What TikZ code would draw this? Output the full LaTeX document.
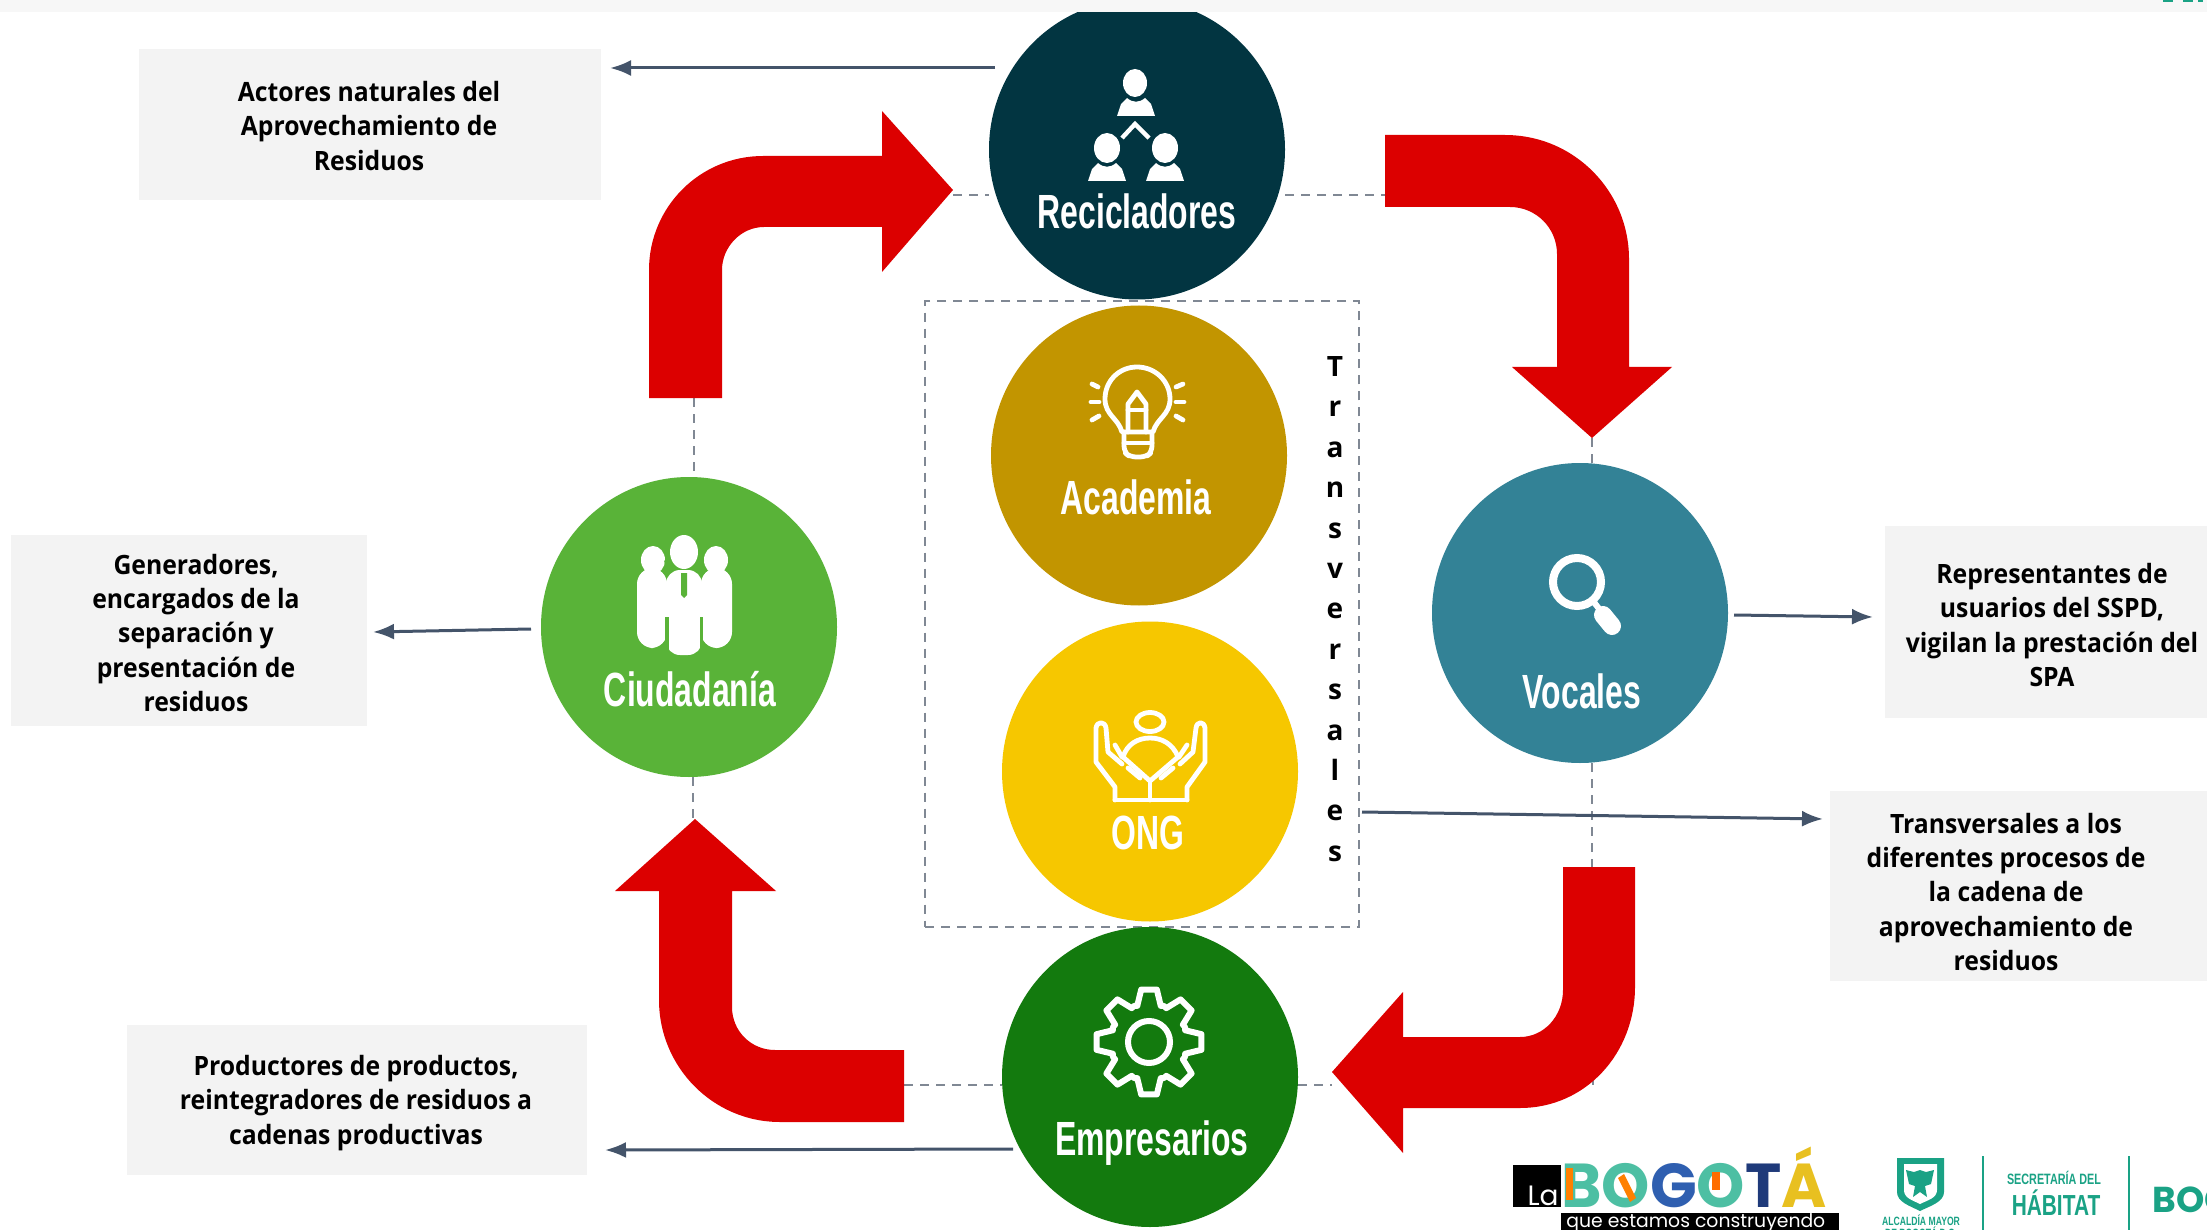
\documentclass[tikz,border=0pt]{standalone}
\usepackage{fontspec}
\usetikzlibrary{arrows.meta,calc,shapes.geometric}
\setmainfont{Open Sans}
\newfontfamily\condfont[FakeStretch=0.665]{Liberation Sans}
\newfontfamily\bodyfont[FakeStretch=0.93]{Open Sans}
\newfontfamily\letterfont{Open Sans}
\newfontfamily\logofont{Poppins}
\newfontfamily\logowide[FakeStretch=0.99]{Poppins}
\newfontfamily\lognarrow[FakeStretch=0.72]{Liberation Sans}
\definecolor{cRec}{HTML}{023541}
\definecolor{cAca}{HTML}{C29500}
\definecolor{cOng}{HTML}{F6C700}
\definecolor{cVoc}{HTML}{338296}
\definecolor{cCiu}{HTML}{59B338}
\definecolor{cEmp}{HTML}{137A0E}
\definecolor{cRed}{HTML}{DC0000}
\definecolor{cBox}{HTML}{F3F3F3}
\definecolor{cArr}{HTML}{44546A}
\definecolor{cDash}{HTML}{808894}
\definecolor{cTeal}{HTML}{1AA285}
\definecolor{cLogo}{HTML}{4DBFA3}
\tikzset{
  disc/.style={ellipse,minimum width=148pt,minimum height=150pt,inner sep=0pt,outer sep=0pt,fill=#1},
  tbox/.style={rectangle,fill=cBox,inner sep=0pt,outer sep=0pt},
  ttext/.style={align=center,text=black,font=\bodyfont\bfseries\fontsize{13.3}{17.2}\selectfont,inner sep=0pt},
  lab/.style={anchor=base,text=white,inner sep=0pt,font=\condfont\bfseries\fontsize{24}{24}\selectfont},
  thinarrow/.style={draw=cArr,line width=1.5pt,-{Latex[length=10.5pt,width=8pt]}},
  dashline/.style={draw=cDash,line width=1pt,dash pattern=on 4.5pt off 3.5pt},
  redarrow/.style={fill=cRed,draw=none},
  ico/.style={draw=white,line width=2.4pt,line join=round,line cap=round}
}
\begin{document}
\begin{tikzpicture}[x=0.5pt,y=-0.5pt]
\useasboundingbox (0,0) rectangle (2207,1230);
\fill[white] (0,0) rectangle (2207,1230);

% boxes
\node[tbox,minimum width=231pt,minimum height=75.5pt] (b1) at (370,124.5) {};
\node[tbox,minimum width=178pt,minimum height=95.5pt] (b2) at (189,630.5) {};
\node[tbox,minimum width=230pt,minimum height=75pt] (b3) at (357,1100) {};
\node[tbox,minimum width=161pt,minimum height=96pt] (b4) at (2046,622) {};
\node[tbox,minimum width=188.5pt,minimum height=95pt] (b5) at (2018.5,886) {};
\node[ttext] (t1) at (369,126) {Actores naturales del\\Aprovechamiento de\\Residuos};
\node[ttext] (t2) at (196,633) {Generadores,\\encargados de la\\separación y\\presentación de\\residuos};
\node[ttext] (t3) at (356,1103) {Productores de productos,\\reintegradores de residuos a\\cadenas productivas};
\node[ttext] (t4) at (2052,625) {Representantes de\\usuarios del SSPD,\\vigilan la prestación del\\SPA};
\node[ttext] (t5) at (2006,892) {Transversales a los\\diferentes procesos de\\la cadena de\\aprovechamiento de\\residuos};

% dashed frame
\node[draw=cDash,line width=1pt,dash pattern=on 4.5pt off 3.5pt,rectangle,minimum width=217pt,minimum height=312.5pt,inner sep=0pt] (frame) at (1142,614) {};

% anchors of connectors
\coordinate (dTLb) at (694,398);
\coordinate (dTLt) at (953,195);
\coordinate (dTRs) at (1385,195);
\coordinate (dTRt) at (1592,438);
\coordinate (dBRt) at (1592,867);
\coordinate (dBRl) at (1332,1085);
\coordinate (dBLr) at (904,1085);
\coordinate (dBLt) at (693,819);

% circles
\node[disc=cRec] (rec) at (1137,149.5) {};
\node[disc=cAca] (aca) at (1139,455.5) {};
\node[disc=cOng] (ong) at (1150,771.5) {};
\node[disc=cEmp] (emp) at (1150,1077) {};
\node[disc=cCiu] (ciu) at (689,627) {};
\node[disc=cVoc] (voc) at (1580,613) {};

% dashed connectors
\draw[dashline] (dTLt) -- (dTLt -| rec.west);
\draw[dashline] (dTRs -| rec.east) -- (dTRs);
\draw[dashline] (dTRt) -- (dTRt |- voc.north);
\draw[dashline] (dBRt |- voc.south) -- (dBRt);
\draw[dashline] (dBRl -| emp.east) -- (dBRl);
\draw[dashline] (dBLr) -- (dBLr -| emp.west);
\draw[dashline] (dTLb) -- (dTLb |- ciu.north);
\draw[dashline] (dBLt |- ciu.south) -- (dBLt);
\draw[dashline] (1593,1030) -- (1593,1085);

% red arrows
\path[redarrow] (649,398) -- (649,270) .. controls (649,207) and (700,156) .. (763,156) -- (882,156) -- (882,111) -- (953,190) -- (882,272) -- (882,227) -- (764,227) .. controls (741,227) and (722,247) .. (722,270) -- (722,398) -- cycle;
\path[redarrow] (1385,135) -- (1505,135) .. controls (1574,135) and (1629,191) .. (1629,259) -- (1629,367) -- (1672,367) -- (1592,438) -- (1512,367) -- (1557,367) -- (1557,254) .. controls (1557,228) and (1536,207) .. (1510,207) -- (1385,207) -- cycle;
\path[redarrow] (1635,867) -- (1635,987) .. controls (1635,1053) and (1586,1108) .. (1520,1108) -- (1403,1108) -- (1403,1153) -- (1332,1072) -- (1403,992) -- (1403,1037) -- (1520,1037) .. controls (1544,1037) and (1563,1016) .. (1563,990) -- (1563,867) -- cycle;
\path[redarrow] (904,1122) -- (780,1122) .. controls (713,1122) and (659,1067) .. (659,1000) -- (659,891) -- (615,891) -- (695,819) -- (776,891) -- (732,891) -- (732,1007) .. controls (732,1031) and (751,1050) .. (775,1050) -- (904,1050) -- cycle;

% thin arrows
\coordinate (a1s) at (995,68); \coordinate (a1e) at (610,68);
\coordinate (a2s) at (531,629); \coordinate (a2e) at (373,632);
\coordinate (a3s) at (1013,1149); \coordinate (a3e) at (605,1150);
\coordinate (a4s) at (1734,615); \coordinate (a4e) at (1873,617);
\coordinate (a5s) at (1362,812); \coordinate (a5e) at (1823,819);
\draw[thinarrow] (a1s) -- (a1e);
\draw[thinarrow] (a2s) -- (a2e);
\draw[thinarrow] (a3s) -- (a3e);
\draw[thinarrow] (a4s) -- (a4e);
\draw[thinarrow] (a5s) -- (a5e);

% Transversales
\node[align=center,inner sep=0pt,font=\letterfont\bfseries\fontsize{14}{20.2}\selectfont] (tv) at (1335,609) {T\\r\\a\\n\\s\\v\\e\\r\\s\\a\\l\\e\\s};

% labels
\node[lab] (lrec) at (1137,229) {Recicladores};
\node[lab] (laca) at (1136,514) {Academia};
\node[lab] (long) at (1148,849) {ONG};
\node[lab] (lciu) at (690,706) {Ciudadanía};
\node[lab] (lvoc) at (1582,708) {Vocales};
\node[lab] (lemp) at (1152,1155) {Empresarios};

% icon: Recicladores
\fill[white] (1135,83) ellipse (12 and 14);
\fill[white] (1107,148) ellipse (13 and 15);
\fill[white] (1165,148) ellipse (13 and 15);
\foreach \bx/\by in {1136/98,1107/163,1165/163}{
  \fill[white] (\bx-9,\by) .. controls (\bx-3,\by+5) and (\bx+3,\by+5) .. (\bx+9,\by) -- (\bx+15,\by+6) -- (\bx+19,\by+18) -- (\bx-19,\by+18) -- (\bx-15,\by+6) -- cycle;
}
\draw[white,line width=2.2pt] (1122,138) -- (1135,124) -- (1149,138);

% icon: Academia
\draw[ico] (1122,432) .. controls (1118,418) and (1105,415) .. (1105,399) .. controls (1105,381) and (1119,367) .. (1137,367) .. controls (1155,367) and (1170,381) .. (1170,399) .. controls (1170,415) and (1157,418) .. (1153,432) -- cycle;
\draw[ico,rounded corners=3pt] (1124,432) -- (1124,452) -- (1130,457) -- (1146,457) -- (1152,452) -- (1152,432);
\draw[ico] (1124,443) -- (1152,443);
\draw[ico] (1128,432) -- (1128,404) -- (1137,392) -- (1146,404) -- (1146,432);
\draw[ico] (1128,410) -- (1146,410);
\draw[ico] (1092,384) -- (1098,387);
\draw[ico] (1091,402) -- (1099,402);
\draw[ico] (1092,420) -- (1099,416);
\draw[ico] (1183,384) -- (1176,387);
\draw[ico] (1184,402) -- (1176,402);
\draw[ico] (1183,420) -- (1176,416);

% icon: ONG
\draw[ico] (1150,722) ellipse (14 and 9.5);
\draw[ico] (1150,781) -- (1123,757) .. controls (1127,744) and (1138,738) .. (1150,738) .. controls (1162,738) and (1173,744) .. (1178,757) -- cycle;
\draw[ico] (1150,781) -- (1150,800);
\draw[ico] (1115,800) -- (1187,800);
\draw[ico] (1115,800) -- (1115,787) -- (1096,762) -- (1096,728) .. controls (1097,721) and (1105,721) .. (1106,728) -- (1108,752) -- (1122,764);
\draw[ico] (1187,800) -- (1187,787) -- (1205,762) -- (1205,728) .. controls (1204,721) and (1197,721) .. (1196,728) -- (1193,752) -- (1180,764);
\draw[ico] (1115,745) -- (1122,757);
\draw[ico] (1187,745) -- (1179,757);
\draw[ico] (1128,768) -- (1140,778);
\draw[ico] (1173,768) -- (1161,778);

% icon: Ciudadania
\fill[white] (684,552) ellipse (14 and 17);
\fill[white] (653,560) ellipse (12 and 14);
\fill[white] (716,560) ellipse (12 and 14);
\fill[white,rounded corners=8pt] (637,568) rectangle (667,648);
\fill[white,rounded corners=8pt] (701,568) rectangle (732,648);
\fill[white,rounded corners=7pt] (666,570) rectangle (702,655);
\fill[white] (660,590) rectangle (710,617);
\fill[cCiu] (681,573) -- (687,573) -- (687,595) -- (684,598) -- (681,595) -- cycle;
\fill[cCiu] (665,617) rectangle (669,650);
\fill[cCiu] (700,617) rectangle (703,650);
\fill[cCiu] (664,560) -- (671,570) -- (667,576) -- cycle;
\fill[cCiu] (704,560) -- (697,570) -- (701,576) -- cycle;

% icon: Vocales
\draw[white,line width=4pt] (1577,582) circle (24);
\draw[white,line width=3pt] (1593,601) -- (1600,610);
\draw[white,line width=9pt,line cap=round] (1603,615) -- (1612,626);

% icon: Empresarios
\coordinate (gc) at (1149,1042);
\draw[ico,line width=3pt] ($(gc)+(-22.5:39)$) \foreach \a in {0,45,...,315}{ -- ($(gc)+(\a-18:38)$) -- ($(gc)+(\a-8.5:53)$) -- ($(gc)+(\a+8.5:53)$) -- ($(gc)+(\a+18:38)$) -- ($(gc)+(\a+22.5:39)$) } -- cycle;
\draw[white,line width=3pt] (gc) circle (21);

% top strip
\fill[black!3] (0,0) rectangle (2207,12);
\fill[cTeal] (2163,0) rectangle (2173,2);
\fill[cTeal] (2183,0) rectangle (2193,2);
\fill[cTeal] (2198,0) rectangle (2203,2);

% logos
\fill[black] (1513,1165) rectangle (1561,1207);
\node[anchor=base east,text=white,inner sep=0pt,font=\logofont\fontsize{14}{14}\selectfont] (la) at (1559,1205) {La};
\node[anchor=base west,inner sep=0pt,font=\logowide\bfseries\fontsize{31}{31}\selectfont] (bog) at (1561,1207) {\textcolor{cLogo}{B}\textcolor{cLogo}{O}\textcolor[HTML]{2F5FB0}{G}\textcolor{cLogo}{O}\textcolor[HTML]{1F3A7A}{T}\textcolor[HTML]{E8C020}{Á}};
\fill[orange] (1566,1168) rectangle (1573,1200);
\fill[orange] (1618,1178) -- (1624,1174) -- (1636,1198) -- (1630,1202) -- cycle;
\fill[orange!85!red] (1712,1172) rectangle (1720,1190);
\fill[black] (1561,1213) rectangle (1839,1230);
\node[anchor=base west,text=white,inner sep=0pt,font=\logofont\fontsize{9.4}{9.4}\selectfont] (que) at (1566,1227) {que estamos construyendo};

\fill[cTeal] (1897,1158) -- (1944,1158) -- (1944,1192) .. controls (1944,1202) and (1930,1206) .. (1920,1211) .. controls (1910,1206) and (1897,1202) .. (1897,1192) -- cycle;
\fill[white] (1904,1164) -- (1937,1164) -- (1937,1190) .. controls (1937,1198) and (1928,1200) .. (1920,1204) .. controls (1912,1200) and (1904,1198) .. (1904,1190) -- cycle;
\fill[cTeal] (1920,1170) -- (1926,1172) -- (1934,1170) -- (1931,1184) -- (1925,1186) -- (1927,1197) -- (1920,1192) -- (1913,1197) -- (1915,1186) -- (1909,1184) -- (1906,1170) -- (1914,1172) -- cycle;
\node[text=cTeal,inner sep=0pt,font=\lognarrow\bfseries\fontsize{6}{6}\selectfont] (alc) at (1921,1220.5) {ALCALDÍA MAYOR};
\node[text=cTeal,inner sep=0pt,font=\lognarrow\bfseries\fontsize{6}{6}\selectfont] (dbg) at (1921,1232) {DE BOGOTÁ D.C.};
\draw[cTeal,line width=0.8pt] (1983,1156) -- (1983,1230);
\draw[cTeal,line width=0.8pt] (2129,1156) -- (2129,1230);
\node[text=cTeal,inner sep=0pt,font=\lognarrow\bfseries\fontsize{7.5}{7.5}\selectfont] (sec) at (2054,1178) {SECRETARÍA DEL};
\node[text=cTeal,inner sep=0pt,font=\lognarrow\bfseries\fontsize{14.5}{14.5}\selectfont] (hab) at (2056,1203) {HÁBITAT};
\node[anchor=base west,text=cTeal,inner sep=0pt,font=\logofont\bfseries\fontsize{18}{18}\selectfont] (bg2) at (2152,1212) {BOG};
\end{tikzpicture}
\end{document}
